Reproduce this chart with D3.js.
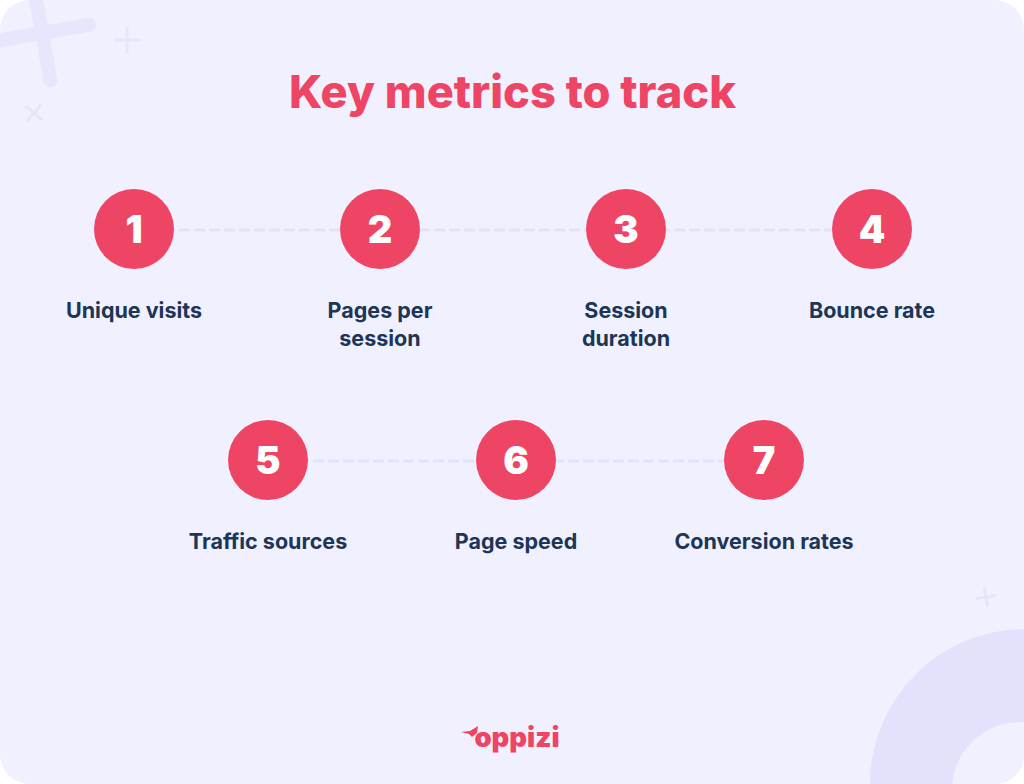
<!DOCTYPE html>
<html>
<head>
<meta charset="utf-8">
<script src="https://cdn.jsdelivr.net/npm/d3@7"></script>
<style>
  html, body { margin: 0; padding: 0; background: #fff; }
  svg { display: block; }
  text { font-family: Inter, sans-serif; }
</style>
</head>
<body>
<svg id="chart" width="1024" height="784"></svg>
<script>
const titleText = "Key metrics to track";
const brandText = "oppizi";

const topNumbers = [1, 2, 3, 4];
const topLabels = [["Unique visits"], ["Pages per", "session"], ["Session", "duration"], ["Bounce rate"]];
const bottomNumbers = [5, 6, 7];
const bottomLabels = [["Traffic sources"], ["Page speed"], ["Conversion rates"]];

const red = "#ef4565";
const navy = "#1d3557";
const dash = "#e2e3fb";
const paper = "#f0f0ff";

const svg = d3.select("#chart");

// background with rounded corners
svg.append("rect")
    .attr("width", 1024)
    .attr("height", 784)
    .attr("rx", 30)
    .attr("fill", paper);

const defs = svg.append("defs");
defs.append("clipPath")
    .attr("id", "card")
    .append("rect")
    .attr("width", 1024)
    .attr("height", 784)
    .attr("rx", 30);

const deco = svg.append("g").attr("clip-path", "url(#card)");

// big arch, bottom right
deco.append("circle")
    .attr("cx", 1025)
    .attr("cy", 784)
    .attr("r", 155)
    .attr("fill", "#e2e2fd");

deco.append("circle")
    .attr("cx", 1020)
    .attr("cy", 790)
    .attr("r", 68)
    .attr("fill", paper);

function drawCross(x, y, size, width, angle, color) {
    deco.append("path")
        .attr("d", `M${-size},0L${size},0M0,${-size}L0,${size}`)
        .attr("transform", `translate(${x},${y}) rotate(${angle})`)
        .attr("stroke", color)
        .attr("stroke-width", width)
        .attr("stroke-linecap", "round")
        .attr("fill", "none");
}

drawCross(42, 33, 48, 14, -10, "#e6e6fd");
drawCross(127, 40, 12, 3, 0, "#e6e6fa");
drawCross(34, 113, 10, 3, 40, "#e6e6fa");
drawCross(986, 597, 9, 3, -10, "#e6e6fa");

svg.append("text")
    .attr("x", 512.5)
    .attr("y", 108)
    .attr("text-anchor", "middle")
    .attr("font-size", 45.2)
    .attr("font-weight", 800)
    .attr("fill", red)
    .text(titleText);

function drawRow(numbers, labels, range, cy, labelY) {
    const x = d3.scalePoint().domain(numbers).range(range);
    const row = svg.append("g");

    row.append("line")
        .attr("x1", range[0])
        .attr("x2", range[1])
        .attr("y1", cy + 1)
        .attr("y2", cy + 1)
        .attr("stroke", dash)
        .attr("stroke-width", 3)
        .attr("stroke-dasharray", "11 4");

    const step = row.selectAll(".step")
        .data(numbers)
        .enter()
        .append("g")
        .attr("class", "step")
        .attr("transform", d => `translate(${x(d)},0)`);

    step.append("circle")
        .attr("cy", cy)
        .attr("r", 40)
        .attr("fill", red);

    step.append("text")
        .attr("y", cy + 14)
        .attr("text-anchor", "middle")
        .attr("font-size", 38)
        .attr("font-weight", 900)
        .attr("fill", "#fff")
        .text(d => d);

    step.each(function(d, i) {
        d3.select(this).selectAll(".label")
            .data(labels[i])
            .enter()
            .append("text")
            .attr("class", "label")
            .attr("y", (t, j) => labelY + j * 28)
            .attr("text-anchor", "middle")
            .attr("font-size", 21.5)
            .attr("font-weight", 700)
            .attr("fill", navy)
            .text(t => t);
    });
}

drawRow(topNumbers, topLabels, [134, 872], 229, 318);
drawRow(bottomNumbers, bottomLabels, [268, 764], 460, 549);

// logo
svg.append("path")
    .attr("d", "M461,732 L470,731 L478,726 L477,733 L472,737 L469,734 Z")
    .attr("fill", red);

svg.append("text")
    .attr("x", 517)
    .attr("y", 747)
    .attr("text-anchor", "middle")
    .attr("font-size", 27.5)
    .attr("font-weight", 900)
    .attr("fill", red)
    .text(brandText);
</script>
</body>
</html>
